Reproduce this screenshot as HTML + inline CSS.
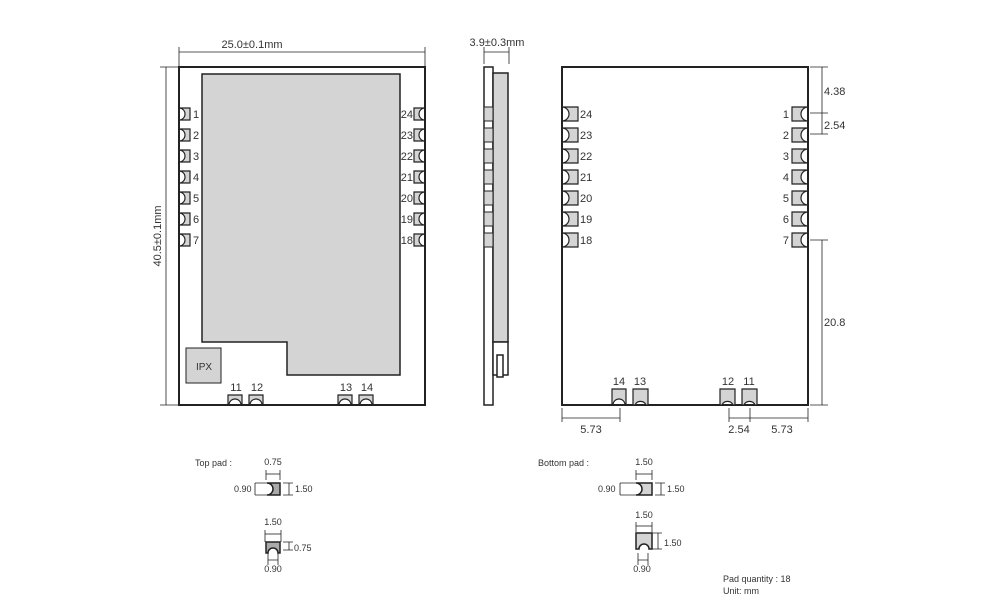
<!DOCTYPE html>
<html><head><style>body{margin:0;background:#fff}svg{display:block}text{font-family:"Liberation Sans",sans-serif;fill:#333}</style></head><body>
<svg width="1000" height="610" viewBox="0 0 1000 610" xmlns="http://www.w3.org/2000/svg">
<g stroke="#222" fill="none">
<!-- top view -->
<line x1="179" y1="52" x2="425" y2="52" stroke-width="0.8"/><line x1="179" y1="47" x2="179" y2="67" stroke-width="0.8"/><line x1="425" y1="47" x2="425" y2="67" stroke-width="0.8"/>
<line x1="166" y1="67" x2="166" y2="405" stroke-width="0.8"/><line x1="160" y1="67" x2="179" y2="67" stroke-width="0.8"/><line x1="160" y1="405" x2="179" y2="405" stroke-width="0.8"/>
<rect x="179" y="67" width="246" height="338" stroke-width="2"/>
<path d="M202 74H400V375H287V342H202Z" fill="#d4d4d4" stroke-width="1.5"/>
<rect x="186" y="348" width="35" height="35" fill="#d4d4d4" stroke-width="1"/>
</g>
<g fill="#d4d4d4" stroke="#222" stroke-width="1.2">
<path d="M179 108H190V120H179A6 6 0 0 0 179 108Z"/><path d="M179 129H190V141H179A6 6 0 0 0 179 129Z"/><path d="M179 150H190V162H179A6 6 0 0 0 179 150Z"/><path d="M179 171H190V183H179A6 6 0 0 0 179 171Z"/><path d="M179 192H190V204H179A6 6 0 0 0 179 192Z"/><path d="M179 213H190V225H179A6 6 0 0 0 179 213Z"/><path d="M179 234H190V246H179A6 6 0 0 0 179 234Z"/>
<path d="M425 108H414V120H425A6 6 0 0 1 425 108Z"/><path d="M425 129H414V141H425A6 6 0 0 1 425 129Z"/><path d="M425 150H414V162H425A6 6 0 0 1 425 150Z"/><path d="M425 171H414V183H425A6 6 0 0 1 425 171Z"/><path d="M425 192H414V204H425A6 6 0 0 1 425 192Z"/><path d="M425 213H414V225H425A6 6 0 0 1 425 213Z"/><path d="M425 234H414V246H425A6 6 0 0 1 425 234Z"/>
<path d="M228 405V395H242V405H241A6 6 0 0 0 229 405Z"/><path d="M249 405V395H263V405H262A6 6 0 0 0 250 405Z"/><path d="M338 405V395H352V405H351A6 6 0 0 0 339 405Z"/><path d="M359 405V395H373V405H372A6 6 0 0 0 360 405Z"/>
</g>
<g font-size="11">
<text x="252" y="48" text-anchor="middle">25.0±0.1mm</text>
<text transform="translate(161,236) rotate(-90)" text-anchor="middle">40.5±0.1mm</text>
<text x="204" y="370" text-anchor="middle" font-size="10">IPX</text>
<text x="193" y="118">1</text><text x="193" y="139">2</text><text x="193" y="160">3</text><text x="193" y="181">4</text><text x="193" y="202">5</text><text x="193" y="223">6</text><text x="193" y="244">7</text>
<g text-anchor="end"><text x="413" y="118">24</text><text x="413" y="139">23</text><text x="413" y="160">22</text><text x="413" y="181">21</text><text x="413" y="202">20</text><text x="413" y="223">19</text><text x="413" y="244">18</text></g>
<g text-anchor="middle"><text x="236" y="391">11</text><text x="257" y="391">12</text><text x="346" y="391">13</text><text x="367" y="391">14</text></g>
</g>
<!-- side view -->
<g stroke="#222" stroke-width="0.8" fill="none"><line x1="484" y1="52" x2="509" y2="52"/><line x1="484" y1="47" x2="484" y2="64"/><line x1="509" y1="47" x2="509" y2="64"/></g>
<text x="497" y="46" font-size="11" text-anchor="middle">3.9±0.3mm</text>
<g stroke="#222" stroke-width="1.5">
<rect x="484" y="67" width="9" height="338" fill="#fff"/>
<rect x="493" y="73" width="15" height="269" fill="#d4d4d4"/>
<rect x="493" y="342" width="15" height="33" fill="#fff"/>
<rect x="497" y="355" width="6" height="22" fill="#fff"/>
</g>
<g fill="#d4d4d4" stroke="#222" stroke-width="1">
<rect x="484" y="107" width="9" height="14"/><rect x="484" y="128" width="9" height="14"/><rect x="484" y="149" width="9" height="14"/><rect x="484" y="170" width="9" height="14"/><rect x="484" y="191" width="9" height="14"/><rect x="484" y="212" width="9" height="14"/><rect x="484" y="233" width="9" height="14"/>
</g>
<!-- bottom view -->
<rect x="562" y="67" width="246" height="338" fill="none" stroke="#222" stroke-width="2"/>
<g fill="#d4d4d4" stroke="#222" stroke-width="1.2">
<path d="M562 107H578V121H562A7 7 0 0 0 562 107Z"/><path d="M562 128H578V142H562A7 7 0 0 0 562 128Z"/><path d="M562 149H578V163H562A7 7 0 0 0 562 149Z"/><path d="M562 170H578V184H562A7 7 0 0 0 562 170Z"/><path d="M562 191H578V205H562A7 7 0 0 0 562 191Z"/><path d="M562 212H578V226H562A7 7 0 0 0 562 212Z"/><path d="M562 233H578V247H562A7 7 0 0 0 562 233Z"/>
<path d="M808 107H792V121H808A7 7 0 0 1 808 107Z"/><path d="M808 128H792V142H808A7 7 0 0 1 808 128Z"/><path d="M808 149H792V163H808A7 7 0 0 1 808 149Z"/><path d="M808 170H792V184H808A7 7 0 0 1 808 170Z"/><path d="M808 191H792V205H808A7 7 0 0 1 808 191Z"/><path d="M808 212H792V226H808A7 7 0 0 1 808 212Z"/><path d="M808 233H792V247H808A7 7 0 0 1 808 233Z"/>
<path d="M612 405V389H626V405H625A6 6 0 0 0 613 405Z"/><path d="M633 405V389H648V405H646A6 6 0 0 0 635 405Z"/><path d="M720 405V389H735V405H733A6 6 0 0 0 722 405Z"/><path d="M742 405V389H757V405H755A6 6 0 0 0 744 405Z"/>
</g>
<g stroke="#222" stroke-width="0.8" fill="none">
<line x1="822" y1="67" x2="822" y2="134"/><line x1="822" y1="240" x2="822" y2="405"/>
<line x1="810" y1="67" x2="828" y2="67"/><line x1="810" y1="113" x2="828" y2="113"/><line x1="810" y1="134" x2="828" y2="134"/><line x1="810" y1="240" x2="828" y2="240"/><line x1="810" y1="405" x2="828" y2="405"/>
<line x1="562" y1="418" x2="620" y2="418"/><line x1="562" y1="408" x2="562" y2="422"/><line x1="620" y1="408" x2="620" y2="422"/>
<line x1="729" y1="418" x2="808" y2="418"/><line x1="729" y1="408" x2="729" y2="422"/><line x1="750" y1="408" x2="750" y2="422"/><line x1="808" y1="408" x2="808" y2="422"/>
</g>
<g font-size="11">
<text x="580" y="118">24</text><text x="580" y="139">23</text><text x="580" y="160">22</text><text x="580" y="181">21</text><text x="580" y="202">20</text><text x="580" y="223">19</text><text x="580" y="244">18</text>
<g text-anchor="end"><text x="789" y="118">1</text><text x="789" y="139">2</text><text x="789" y="160">3</text><text x="789" y="181">4</text><text x="789" y="202">5</text><text x="789" y="223">6</text><text x="789" y="244">7</text></g>
<g text-anchor="middle"><text x="619" y="385">14</text><text x="640" y="385">13</text><text x="728" y="385">12</text><text x="749" y="385">11</text>
<text x="591" y="433">5.73</text><text x="739" y="433">2.54</text><text x="782" y="433">5.73</text></g>
<text x="824" y="95">4.38</text><text x="824" y="129">2.54</text><text x="824" y="326">20.8</text>
</g>
<!-- pad details -->
<g font-size="9">
<text x="195" y="466">Top pad :</text>
<text x="273" y="465" text-anchor="middle">0.75</text>
<text x="234" y="492">0.90</text><text x="295" y="492">1.50</text>
<text x="273" y="525" text-anchor="middle">1.50</text><text x="294" y="551">0.75</text>
<text x="273" y="572" text-anchor="middle">0.90</text>
<text x="538" y="466">Bottom pad :</text>
<text x="644" y="465" text-anchor="middle">1.50</text>
<text x="598" y="492">0.90</text><text x="667" y="492">1.50</text>
<text x="644" y="518" text-anchor="middle">1.50</text><text x="664" y="546">1.50</text>
<text x="642" y="572" text-anchor="middle">0.90</text>
<text x="723" y="582">Pad quantity : 18</text><text x="723" y="594">Unit:  mm</text>
</g>
<g stroke="#222" stroke-width="0.8" fill="none">
<line x1="266" y1="470" x2="266" y2="480"/><line x1="280" y1="470" x2="280" y2="480"/><line x1="266" y1="474" x2="280" y2="474"/>
<path d="M255 483V495M255 483H270M255 495H270"/>
<path d="M283 483H293M283 495H293M289 483V495"/>
<line x1="265" y1="530" x2="265" y2="542"/><line x1="281" y1="530" x2="281" y2="542"/><line x1="265" y1="534" x2="281" y2="534"/>
<path d="M283 542H293M283 550H293M289 542V550"/>
<path d="M268 553V565M278 553V565M268 560H278"/>
<line x1="636" y1="470" x2="636" y2="480"/><line x1="652" y1="470" x2="652" y2="480"/><line x1="636" y1="474" x2="652" y2="474"/>
<path d="M620 483V495M620 483H636M620 495H636"/>
<path d="M655 483H665M655 495H665M661 483V495"/>
<line x1="636" y1="522" x2="636" y2="532"/><line x1="652" y1="522" x2="652" y2="532"/><line x1="636" y1="526" x2="652" y2="526"/>
<path d="M652 533H662M652 549H662M658 533V549"/>
<path d="M638 553V565M648 553V565M638 560H648"/>
</g>
<g fill="#d4d4d4" stroke="#222" stroke-width="1.5">
<path d="M267 483H280V495H267A6 6 0 0 0 267 483Z" fill="#aaa"/>
<path d="M266 553V542H280V553H278A5 5 0 0 0 268 553Z" fill="#aaa"/>
<path d="M636 483H652V495H636A6 6 0 0 0 636 483Z"/>
<path d="M636 549V533H652V549H649A5 5 0 0 0 639 549Z"/>
</g>
</svg>
</body></html>
